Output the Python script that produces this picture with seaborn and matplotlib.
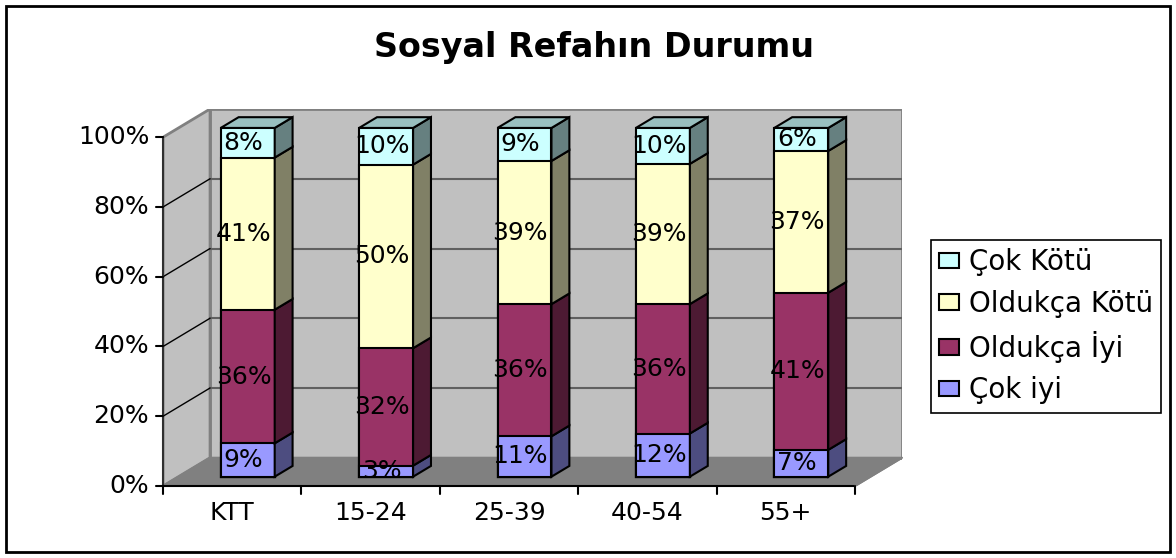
import numpy as np
import pandas as pd
import matplotlib
matplotlib.use("Agg")
import matplotlib.pyplot as plt
from matplotlib.patches import Polygon, Rectangle, Patch
import seaborn as sns

# Data (raw percentages; each bar is stacked to 100%)
categories = ["KTT", "15-24", "25-39", "40-54", "55+"]
cok_iyi = [9, 3, 11, 12, 7]
oldukca_iyi = [36, 32, 36, 36, 41]
oldukca_kotu = [41, 50, 39, 39, 37]
cok_kotu = [8, 10, 9, 10, 6]

series_names = ["Çok iyi", "Oldukça İyi", "Oldukça Kötü", "Çok Kötü"]
series_colors = ["#9999FF", "#993366", "#FFFFCC", "#CCFFFF"]
y_ticks = [0, 20, 40, 60, 80, 100]

# 3D look
DX, DY = 0.34, 8.1      # full depth offset (x in category units, y in %)
TB, TD = 0.33, 0.38     # bar front depth and bar depth, as fraction of DX/DY
BAR_W = 0.39

fx, fy = -TB * DX, -TB * DY
bx, by = (1 - TB) * DX, (1 - TB) * DY
sdx, sdy = TD * DX, TD * DY


def shade(color, f):
    r, g, b = matplotlib.colors.to_rgb(color)
    return (r * f, g * f, b * f)


raw = np.array([cok_iyi, oldukca_iyi, oldukca_kotu, cok_kotu], dtype=float)
pct = raw / raw.sum(axis=0) * 100
cum = np.cumsum(pct, axis=0)
low = cum - pct

sns.set_theme(style="white")
plt.rcParams["font.family"] = ["DejaVu Sans"]
plt.rcParams["text.color"] = "black"

fig = plt.figure(figsize=(11.76, 5.58), dpi=100)
ax = fig.add_axes([163 / 1176, (558 - 486) / 558, (902 - 163) / 1176, (486 - 109) / 558])

n = len(categories)
x0, x1 = -0.5, n - 0.5

# walls and floor
floor = Polygon([(x0 + fx, fy), (x1 + fx, fy), (x1 + bx, by), (x0 + bx, by)],
                closed=True, facecolor="#808080", edgecolor="#808080", lw=1.5, zorder=0)
left_wall = Polygon([(x0 + fx, fy), (x0 + bx, by), (x0 + bx, 100 + by), (x0 + fx, 100 + fy)],
                    closed=True, facecolor="#C0C0C0", edgecolor="#808080", lw=2, zorder=0)
back_wall = Polygon([(x0 + bx, by), (x1 + bx, by), (x1 + bx, 100 + by), (x0 + bx, 100 + by)],
                    closed=True, facecolor="#C0C0C0", edgecolor="#808080", lw=2, zorder=0)
for p in (back_wall, left_wall, floor):
    ax.add_patch(p)

for v in y_ticks[1:-1]:
    ax.plot([x0 + bx, x1 + bx], [v + by, v + by], color="#606060", lw=1.5, zorder=1)
    ax.plot([x0 + fx, x0 + bx], [v + fy, v + by], color="black", lw=1, zorder=1)

# front faces: layered cumulative bars
for k in range(len(series_names) - 1, -1, -1):
    sns.barplot(x=categories, y=cum[k], color=series_colors[k], saturation=1,
                width=BAR_W, edgecolor="black", linewidth=1.5, ax=ax, zorder=3)

# side and top faces
for i in range(n):
    xr = i + BAR_W / 2
    for k in range(len(series_names)):
        side = Polygon([(xr, low[k, i]), (xr + sdx, low[k, i] + sdy),
                        (xr + sdx, cum[k, i] + sdy), (xr, cum[k, i])],
                       closed=True, facecolor=shade(series_colors[k], 0.5),
                       edgecolor="black", lw=1.5, zorder=3)
        ax.add_patch(side)
    xl = i - BAR_W / 2
    top = cum[-1, i]
    ax.add_patch(Polygon([(xl, top), (xr, top), (xr + sdx, top + sdy), (xl + sdx, top + sdy)],
                         closed=True, facecolor=shade(series_colors[-1], 0.75),
                         edgecolor="black", lw=1.5, zorder=3))
    for k in range(len(series_names)):
        ax.text(i - 0.03, (low[k, i] + cum[k, i]) / 2, f"{int(raw[k, i])}%",
                ha="center", va="center", fontsize=18, color="black", zorder=5)

# front axes
ax.plot([x0 + fx, x0 + fx], [fy, 100 + fy], color="#303030", lw=1.5, zorder=2, clip_on=False)
ax.plot([x0 + fx, x1 + fx], [fy, fy], color="black", lw=1.5, zorder=2, clip_on=False)
ax.plot([x1 + fx, x1 + bx], [fy, by], color="#808080", lw=1.5, zorder=2, clip_on=False)
for v in y_ticks:
    ax.plot([x0 + fx - 0.05, x0 + fx], [v + fy, v + fy], color="black", lw=1.5, clip_on=False)
    ax.text(x0 + fx - 0.1, v + fy, f"{v}%", ha="right", va="center", fontsize=18)
for i in range(n + 1):
    xt = i - 0.5 + fx
    ax.plot([xt, xt], [fy, fy - 2.4], color="black", lw=1.5, clip_on=False)
for i, c in enumerate(categories):
    ax.text(i + fx, fy - 7.6, c, ha="center", va="center", fontsize=18)

ax.set_xlim(x0 + fx, x1 + bx)
ax.set_ylim(fy, 100 + by)
ax.axis("off")

fig.text(0.505, 0.914, "Sosyal Refahın Durumu", ha="center", va="center",
         fontsize=24, fontweight="bold")

handles = [Patch(facecolor=series_colors[k], edgecolor="black", lw=1.5)
           for k in range(len(series_names) - 1, -1, -1)]
labels = series_names[::-1]
leg = fig.legend(handles, labels, loc="upper left", bbox_to_anchor=(931 / 1176, 1 - 240 / 558),
                 fontsize=20, frameon=True, fancybox=False, edgecolor="black", framealpha=1,
                 handlelength=0.7, handleheight=0.5, handletextpad=0.36, labelspacing=0.48,
                 borderpad=0.3, borderaxespad=0)
leg.get_frame().set_linewidth(1.2)

fig.add_artist(Rectangle((6 / 1176, 6 / 558), 1164 / 1176, 546 / 558, transform=fig.transFigure,
                         fill=False, edgecolor="black", lw=2))

fig.savefig("out.png", dpi=100)
